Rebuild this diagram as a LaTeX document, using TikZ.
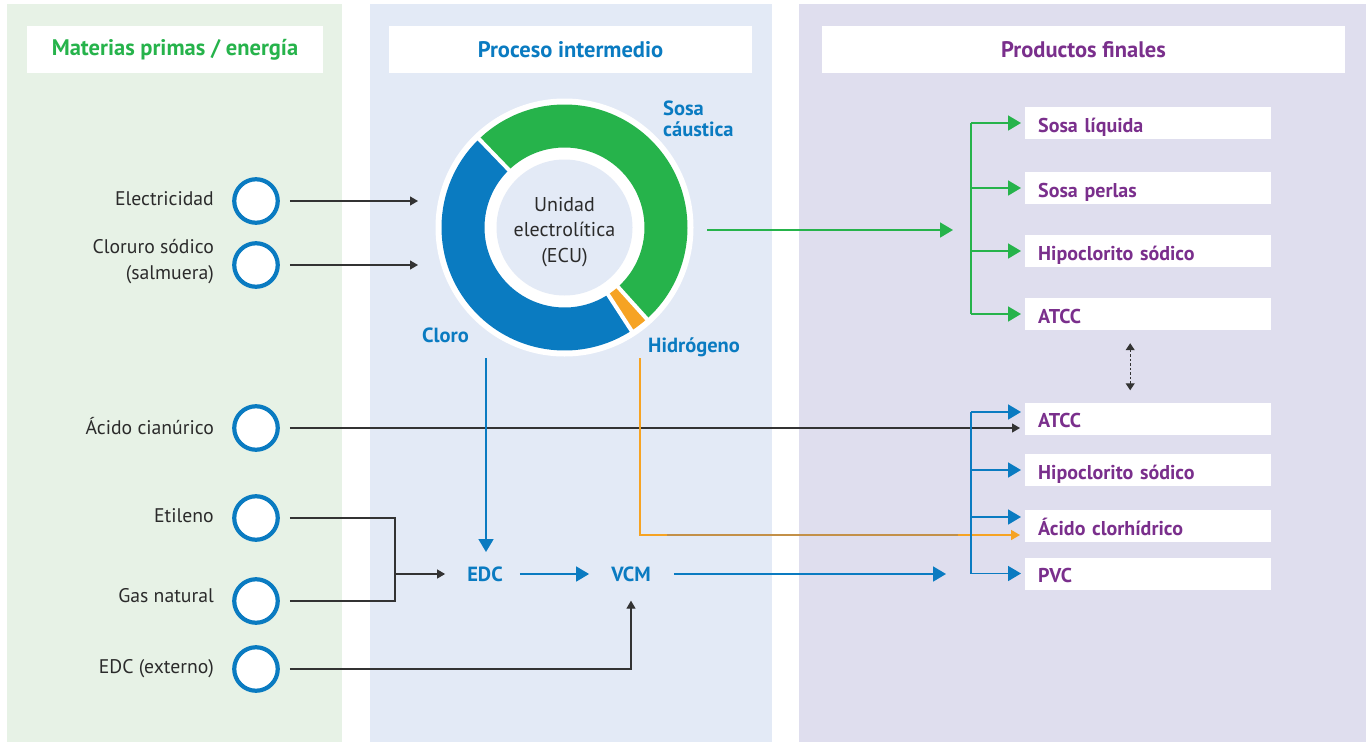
\documentclass[tikz,border=0pt]{standalone}
\usepackage{fontspec}
\setmainfont{PT Sans}
\usetikzlibrary{arrows.meta}
\definecolor{cleftbg}{HTML}{E7F2E6}
\definecolor{cmidbg}{HTML}{E3EAF6}
\definecolor{crightbg}{HTML}{DFDEEE}
\definecolor{cgreen}{HTML}{26B34B}
\definecolor{cblue}{HTML}{0A7BC1}
\definecolor{cpurple}{HTML}{7A2F8C}
\definecolor{corange}{HTML}{F6A323}
\definecolor{cbrown}{HTML}{C39048}
\definecolor{cline}{HTML}{333333}
\definecolor{ctext}{HTML}{2B2B2B}
\newcommand\hdfont{\fontsize{22.5}{24}\selectfont\bfseries}
\newcommand\lblfont{\fontsize{19.7}{26}\selectfont}
\newcommand\midfont{\fontsize{20}{25.5}\selectfont}
\newcommand\boxfont{\fontsize{20}{22}\selectfont\bfseries}
\newcommand\seglblfont{\fontsize{20.5}{21}\selectfont\bfseries}
\begin{document}
\begin{tikzpicture}[x=1pt,y=-1pt,
  header/.style={fill=white, minimum height=47pt, inner sep=0pt, font=\hdfont},
  src/.style={circle, draw=cblue, line width=4.2pt, fill=white, minimum size=43.5pt, inner sep=0pt},
  lbl/.style={anchor=east, align=right, text=ctext, font=\lblfont, inner sep=0pt},
  prod/.style={anchor=west, fill=white, minimum width=246pt, minimum height=32pt, text width=220pt, inner xsep=13pt, inner ysep=0pt, text height=18pt, text depth=0pt, align=left, text=cpurple, font=\boxfont},
  seglbl/.style={anchor=west, align=left, text=cblue, font=\seglblfont, inner sep=0pt},
  mid/.style={text=cblue, font=\seglblfont, inner sep=0pt},
  kline/.style={draw=cline, line width=1.2pt},
  blk/.style={kline, -{Triangle[length=8pt,width=9pt]}},
  garr/.style={draw=cgreen, line width=1.8pt, -{Triangle[length=13pt,width=15pt]}},
  gline/.style={draw=cgreen, line width=1.8pt},
  barr/.style={draw=cblue, line width=1.8pt, -{Triangle[length=13pt,width=15pt]}},
  bline/.style={draw=cblue, line width=1.8pt},
  oarr/.style={draw=corange, line width=1.6pt, -{Triangle[length=9pt,width=10pt]}},
  dsh/.style={draw=cline, line width=1.2pt, dash pattern=on 2.5pt off 2pt, {Triangle[length=7pt,width=9pt]}-{Triangle[length=7pt,width=9pt]}}
]
\useasboundingbox (0,0) rectangle (1366,742);
% panels
\fill[cleftbg] (7,4) rectangle (342,742);
\fill[cmidbg] (370,4) rectangle (772,742);
\fill[crightbg] (799,4) rectangle (1366,742);
% headers
\node[header, minimum width=296pt, text=cgreen] (h1) at (175,49.5) {Materias primas / energía};
\node[header, minimum width=363pt, text=cblue] (h2) at (570.5,49.5) {Proceso intermedio};
\node[header, minimum width=523pt, text=cpurple] (h3) at (1083.5,49.5) {Productos finales};
% donut
\begin{scope}[shift={(564.5,227.5)}, yscale=-1]
  \fill[white] (0,0) circle[radius=129];
  \fill[cgreen] (-48:123) arc[start angle=-48,end angle=134,radius=123] -- (134:80) arc[start angle=134,end angle=-48,radius=80] -- cycle;
  \fill[corange] (-57:123) arc[start angle=-57,end angle=-48,radius=123] -- (-48:80) arc[start angle=-48,end angle=-57,radius=80] -- cycle;
  \fill[cblue] (134:123) arc[start angle=134,end angle=303,radius=123] -- (303:80) arc[start angle=303,end angle=134,radius=80] -- cycle;
  \foreach \a in {134,-48,-57} \draw[white, line width=4pt] (\a:76) -- (\a:127);
  \fill[cmidbg] (0,0) circle[radius=68];
\end{scope}
\node[circle, minimum size=258pt, inner sep=0pt] (ecu) at (564.5,227.5) {};
\node[align=center, text=ctext, font=\midfont, inner sep=0pt] (ecutxt) at (564.5,232) {Unidad\\electrolítica\\(ECU)};
\node[seglbl] (sosa) at (663,119) {Sosa\\cáustica};
\node[seglbl] (cloro) at (422,335) {Cloro};
\node[seglbl] (hidro) at (648,347) {Hidrógeno};
% sources
\node[src] (c1) at (256,201) {};
\node[src] (c2) at (256,265) {};
\node[src] (c3) at (256,428) {};
\node[src] (c4) at (256,518) {};
\node[src] (c5) at (256,601) {};
\node[src] (c6) at (256,669) {};
\node[lbl] (l1) at (214,199) {Electricidad};
\node[lbl] (l2) at (214,262) {Cloruro sódico\\(salmuera)};
\node[lbl] (l3) at (214,426) {Ácido cianúrico};
\node[lbl] (l4) at (214,516) {Etileno};
\node[lbl] (l5) at (214,596) {Gas natural};
\node[lbl] (l6) at (214,669) {EDC (externo)};
% intermediate
\node[mid] (edc) at (485,574) {EDC};
\node[mid] (vcm) at (631,574) {VCM};
% products
\node[prod] (b1) at (1025,123) {Sosa líquida};
\node[prod] (b2) at (1025,188) {Sosa perlas};
\node[prod] (b3) at (1025,251) {Hipoclorito sódico};
\node[prod] (b4) at (1025,314) {ATCC};
\node[prod] (b5) at (1025,418.5) {ATCC};
\node[prod] (b6) at (1025,470) {Hipoclorito sódico};
\node[prod] (b7) at (1025,526) {Ácido clorhídrico};
\node[prod] (b8) at (1025,573.5) {PVC};
% coordinates
\coordinate (in1) at (420,201);
\coordinate (in2) at (420,265);
\coordinate (jn) at (395,574);
\coordinate (clA) at (486,358);
\coordinate (hA) at (640,358);
\coordinate (gA) at (707,230);
\coordinate (gB) at (953,230);
\coordinate (vB) at (946,574);
\coordinate (bus) at (971,0);
\coordinate (bt1) at ([yshift=6.5pt]b5.west);
\coordinate (bt3) at ([yshift=9pt]b7.west);
\coordinate (ot) at ([yshift=-9pt]b7.west);
% left connectors
\draw[blk, shorten <=10pt, shorten >=2pt] (c1) -- (in1);
\draw[blk, shorten <=10pt, shorten >=2pt] (c2) -- (in2);
\draw[blk, shorten <=10pt, shorten >=5pt] (c3) -- (c3 -| b5.west);
\draw[kline, shorten <=10pt] (c4) -| (jn);
\draw[kline, shorten <=10pt] (c5) -| (jn);
\draw[blk, shorten >=22pt] (jn) -- (edc);
\draw[blk, shorten <=10pt, shorten >=19pt] (c6) -| (vcm);
% middle connectors
\draw[barr, shorten >=22pt] (clA) -- (clA |- edc);
\draw[oarr, shorten >=5pt] (hA) |- (ot);
\draw[cbrown, line width=1.6pt] (667,535) -- (958,535);
\draw[barr, shorten <=17pt, shorten >=22pt] (edc) -- (vcm);
\draw[barr, shorten <=23pt] (vcm) -- (vB);
\draw[garr] (gA) -- (gB);
% green bus
\draw[gline] (bus |- b1.west) -- (bus |- b4.west);
\foreach \t in {b1,b2,b3,b4} \draw[garr, shorten >=4pt] (bus |- \t.west) -- (\t.west);
% blue bus
\draw[bline] (bus |- bt1) -- (bus |- b8.west);
\foreach \t in {bt1,b6.west,bt3,b8.west} \draw[barr, shorten >=4pt] (bus |- \t) -- (\t);
% dashed double arrow
\draw[dsh] ([xshift=-18pt,yshift=-13pt]b4.south) -- ([xshift=-18pt,yshift=12pt]b5.north);
\end{tikzpicture}
\end{document}
